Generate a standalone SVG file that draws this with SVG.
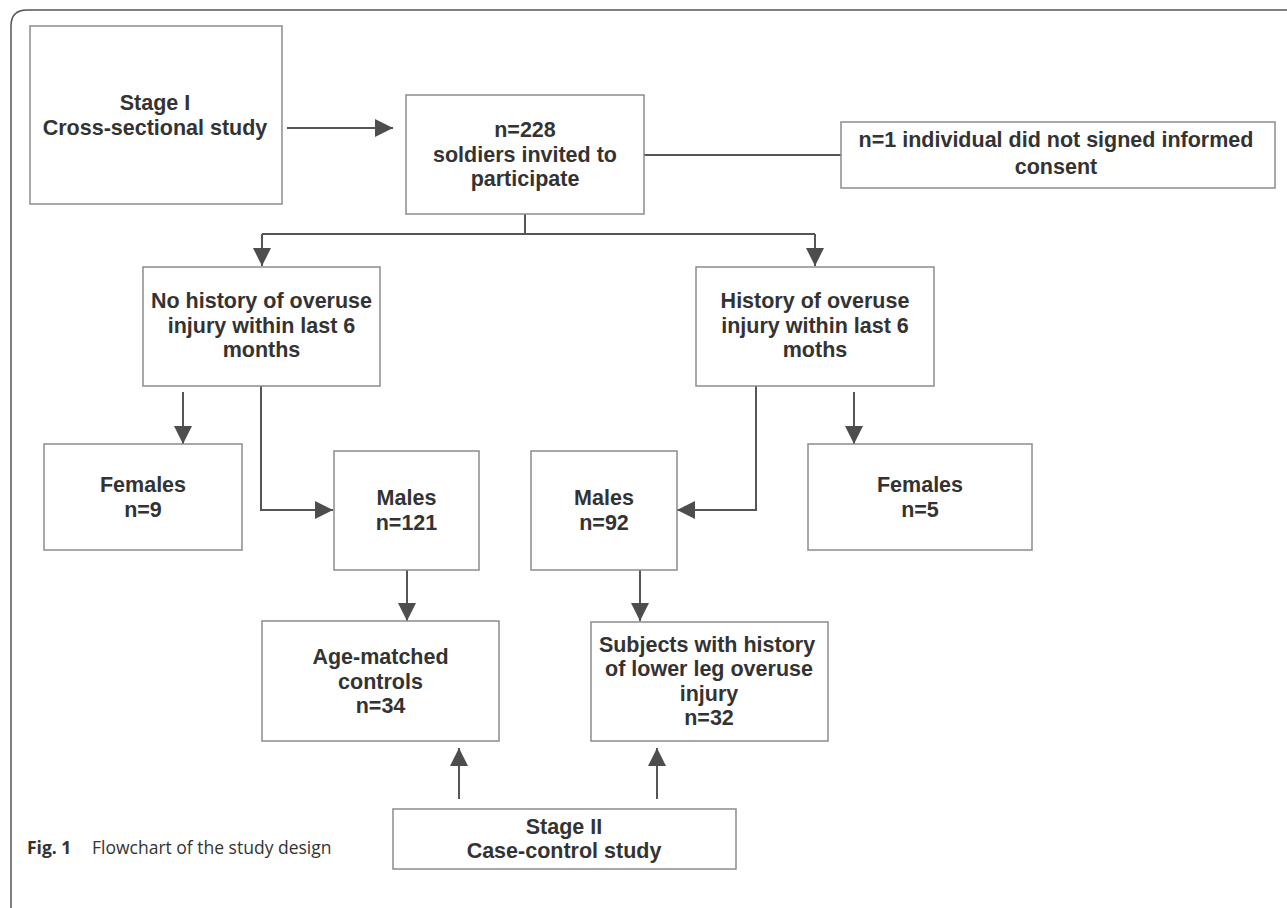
<svg xmlns="http://www.w3.org/2000/svg" width="1287" height="908" viewBox="0 0 1287 908">
<style>
.box{fill:#fff;stroke:#8c8c8c;stroke-width:1.5}
.t{font-family:"Liberation Sans",Arial,sans-serif;font-weight:bold;font-size:21.5px;fill:#333;text-anchor:middle}
.c{fill:none;stroke:#555;stroke-width:2}
.cap{font-family:"Open Sans","Noto Sans",sans-serif;font-size:17.5px;fill:#333}
</style>
<defs>
<marker id="ah" markerUnits="userSpaceOnUse" markerWidth="18" markerHeight="18" viewBox="0 0 16 16" refX="16" refY="8" orient="auto">
<path d="M0,0 L16,8 L0,16 Z" fill="#4d4d4d"/>
</marker>
</defs>
<rect width="1287" height="908" fill="#fff"/>
<path d="M11,908 V26 Q11,10 27,10 H1287" fill="none" stroke="#555" stroke-width="1.5"/>

<g id="connectors">
<line class="c" x1="287" y1="128" x2="393" y2="128" marker-end="url(#ah)"/>
<line class="c" x1="644" y1="155" x2="841" y2="155"/>
<line class="c" x1="525" y1="214" x2="525" y2="234"/>
<polyline class="c" points="262,234 815,234"/>
<line class="c" x1="262" y1="234" x2="262" y2="266" marker-end="url(#ah)"/>
<line class="c" x1="815" y1="234" x2="815" y2="266" marker-end="url(#ah)"/>
<line class="c" x1="183" y1="392" x2="183" y2="444" marker-end="url(#ah)"/>
<polyline class="c" points="261,386 261,510 333,510" marker-end="url(#ah)"/>
<polyline class="c" points="756,386 756,510 677,510" marker-end="url(#ah)"/>
<line class="c" x1="854" y1="392" x2="854" y2="444" marker-end="url(#ah)"/>
<line class="c" x1="407" y1="570" x2="407" y2="621" marker-end="url(#ah)"/>
<line class="c" x1="640" y1="570" x2="640" y2="621" marker-end="url(#ah)"/>
<line class="c" x1="459" y1="799" x2="459" y2="748" marker-end="url(#ah)"/>
<line class="c" x1="657" y1="799" x2="657" y2="748" marker-end="url(#ah)"/>
</g>

<g id="stage1">
<rect class="box" x="30" y="26" width="252" height="178"/>
<text class="t" x="155" y="110">Stage I</text>
<text class="t" x="155" y="135">Cross-sectional study</text>
</g>
<g id="invited">
<rect class="box" x="406" y="95" width="238" height="119"/>
<text class="t" x="525" y="137">n=228</text>
<text class="t" x="525" y="162">soldiers invited to</text>
<text class="t" x="525" y="186">participate</text>
</g>
<g id="noconsent">
<rect class="box" x="841" y="122" width="434" height="66"/>
<text class="t" x="1056" y="147">n=1 individual did not signed informed</text>
<text class="t" x="1056" y="174">consent</text>
</g>
<g id="nohistory">
<rect class="box" x="143" y="267" width="237" height="119"/>
<text class="t" x="261.5" y="308">No history of overuse</text>
<text class="t" x="261.5" y="333">injury within last 6</text>
<text class="t" x="261.5" y="357">months</text>
</g>
<g id="history">
<rect class="box" x="696" y="267" width="238" height="119"/>
<text class="t" x="815" y="308">History of overuse</text>
<text class="t" x="815" y="333">injury within last 6</text>
<text class="t" x="815" y="357">moths</text>
</g>
<g id="females9">
<rect class="box" x="44" y="444" width="198" height="106"/>
<text class="t" x="143" y="492">Females</text>
<text class="t" x="143" y="517">n=9</text>
</g>
<g id="males121">
<rect class="box" x="334" y="451" width="145" height="119"/>
<text class="t" x="406.5" y="505">Males</text>
<text class="t" x="406.5" y="530">n=121</text>
</g>
<g id="males92">
<rect class="box" x="531" y="451" width="146" height="119"/>
<text class="t" x="604" y="505">Males</text>
<text class="t" x="604" y="530">n=92</text>
</g>
<g id="females5">
<rect class="box" x="808" y="444" width="224" height="106"/>
<text class="t" x="920" y="492">Females</text>
<text class="t" x="920" y="517">n=5</text>
</g>
<g id="controls">
<rect class="box" x="262" y="621" width="237" height="120"/>
<text class="t" x="380.5" y="664">Age-matched</text>
<text class="t" x="380.5" y="689">controls</text>
<text class="t" x="380.5" y="713">n=34</text>
</g>
<g id="cases">
<rect class="box" x="591" y="622" width="237" height="119"/>
<text class="t" x="707" y="652">Subjects with history</text>
<text class="t" x="709" y="676">of lower leg overuse</text>
<text class="t" x="709" y="701">injury</text>
<text class="t" x="709" y="725">n=32</text>
</g>
<g id="stage2">
<rect class="box" x="393" y="809" width="343" height="60"/>
<text class="t" x="564" y="834">Stage II</text>
<text class="t" x="564" y="858">Case-control study</text>
</g>
<text class="cap" x="27" y="854"><tspan font-weight="bold">Fig. 1</tspan><tspan x="92">Flowchart of the study design</tspan></text>
</svg>
